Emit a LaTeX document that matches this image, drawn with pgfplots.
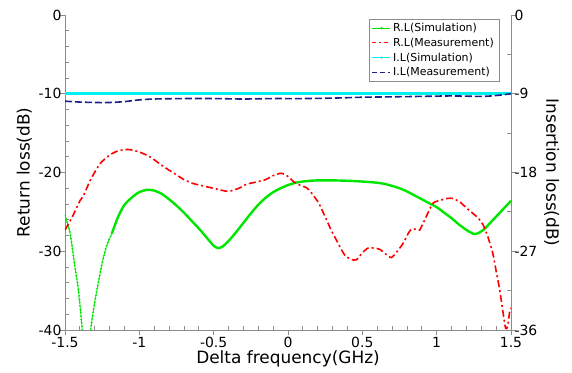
\documentclass[border=0pt]{standalone}
\usepackage{fontspec}
\setmainfont{DejaVu Sans}
\usepackage{pgfplots}
\pgfplotsset{compat=1.18}
\definecolor{axgray}{RGB}{140,140,140}
\definecolor{simgreen}{RGB}{0,230,0}
\definecolor{ilnavy}{RGB}{30,30,140}
\definecolor{ilcyan}{RGB}{0,240,240}
\pgfplotsset{
  common/.style={
    scale only axis, width=446bp, height=315bp,
    xmin=-1.5, xmax=1.5,
    axis line style={-, axgray, line width=0.8bp},
    tick style={axgray, line width=0.8bp},
    major tick length=5bp, minor tick length=4bp,
    tick align=inside,
    tick label style={font=\fontsize{14}{16}\selectfont, text=black},
    label style={font=\fontsize{17}{20}\selectfont},
    /pgf/number format/assume math mode=true,
  }
}
\begin{document}
\begin{tikzpicture}
\begin{axis}[common,
  axis x line*=bottom, axis y line*=left,
  ymin=-40, ymax=0,
  xtick={-1.5,-1,-0.5,0,0.5,1,1.5}, minor x tick num=4,
  xticklabels={-1.5,-1,-0.5,0,0.5,1,1.5},
  ytick={-40,-30,-20,-10,0}, minor y tick num=4,
  major x tick style={yshift=-5bp},
  major y tick style={xshift=-5bp},
  xticklabel style={yshift=-4bp},
  xlabel style={yshift=4bp},
  xlabel={Delta frequency(GHz)}, ylabel={Return loss(dB)},
]
\coordinate (sw) at (rel axis cs:0,0);
% steep null section: thin beaded line
\addplot[simgreen, line width=0.7bp, smooth, tension=0.4] coordinates {
(-1.5,-25.4) (-1.466,-27.7) (-1.433,-32) (-1.41,-34.9) (-1.384,-40) (-1.37,-45)
(-1.355,-52) (-1.34,-45) (-1.327,-40) (-1.3,-36.5) (-1.276,-34) (-1.25,-31.5)
(-1.22,-29.3) (-1.186,-27.8)
};
\addplot[simgreen, line width=1.8bp, dash pattern=on 1.2bp off 2.2bp, smooth, tension=0.4] coordinates {
(-1.5,-25.4) (-1.466,-27.7) (-1.433,-32) (-1.41,-34.9) (-1.384,-40) (-1.37,-45)
(-1.355,-52) (-1.34,-45) (-1.327,-40) (-1.3,-36.5) (-1.276,-34) (-1.25,-31.5)
(-1.22,-29.3) (-1.186,-27.8)
};
\addplot[simgreen, line width=2.4bp, smooth, tension=0.4] coordinates {
(-1.186,-27.8) (-1.142,-25.6) (-1.1,-24.1)
(-1.04,-23.0) (-1.0,-22.5) (-0.95,-22.2) (-0.9,-22.3) (-0.85,-22.7) (-0.8,-23.4)
(-0.75,-24.2) (-0.7,-25.1) (-0.65,-26.1) (-0.6,-27.1) (-0.55,-28.2) (-0.5,-29.3)
(-0.47,-29.6) (-0.44,-29.4) (-0.4,-28.7) (-0.35,-27.6) (-0.3,-26.4) (-0.25,-25.2)
(-0.2,-24.1) (-0.15,-23.2) (-0.1,-22.5) (-0.05,-22.0) (0,-21.6) (0.05,-21.3)
(0.1,-21.15) (0.15,-21.05) (0.2,-21.0) (0.3,-21.0) (0.4,-21.05) (0.5,-21.15)
(0.6,-21.3) (0.65,-21.45) (0.7,-21.7) (0.75,-22.0) (0.8,-22.4) (0.85,-22.9)
(0.9,-23.4) (0.95,-23.9) (1.0,-24.4) (1.05,-25.1) (1.1,-25.8) (1.15,-26.6)
(1.2,-27.3) (1.25,-27.8) (1.28,-27.7) (1.32,-27.2) (1.36,-26.4) (1.4,-25.6)
(1.45,-24.6) (1.5,-23.6)
};
\addplot[red, line width=1.6bp, dash pattern=on 7bp off 3bp on 2bp off 3bp, smooth, tension=0.4] coordinates {
(-1.5,-27.3) (-1.45,-25.6) (-1.4,-23.6) (-1.377,-23.0) (-1.33,-21.0) (-1.265,-18.9)
(-1.2,-17.8) (-1.15,-17.3) (-1.1,-17.1) (-1.063,-17.1) (-1.0,-17.4) (-0.929,-18.0)
(-0.87,-18.8) (-0.817,-19.5) (-0.75,-20.3) (-0.7,-20.9) (-0.638,-21.4) (-0.55,-21.8)
(-0.48,-22.1) (-0.402,-22.4) (-0.33,-22.0) (-0.28,-21.5) (-0.212,-21.2) (-0.15,-20.9)
(-0.1,-20.4) (-0.044,-20.1) (0.0,-20.5) (0.04,-21.2) (0.08,-21.6) (0.13,-22.0)
(0.17,-22.9) (0.21,-24.0) (0.259,-26.0) (0.29,-27.3) (0.326,-28.6) (0.36,-29.8)
(0.382,-30.5) (0.42,-31.0) (0.46,-31.1) (0.5,-30.2) (0.538,-29.6) (0.58,-29.6)
(0.617,-29.75) (0.66,-30.4) (0.696,-30.8) (0.735,-30.0) (0.774,-29.0) (0.81,-27.7)
(0.83,-27.2) (0.86,-27.2) (0.886,-27.3) (0.93,-25.6) (0.975,-23.9) (1.03,-23.5)
(1.07,-23.3) (1.11,-23.3) (1.16,-23.8) (1.2,-24.5) (1.244,-25.2) (1.28,-25.8)
(1.311,-26.6) (1.345,-28.2) (1.378,-30.3) (1.40,-32.5) (1.424,-34.9) (1.445,-37.6)
(1.464,-39.8) (1.478,-39.5) (1.49,-37.8) (1.5,-37.2)
};
\end{axis}
\begin{axis}[common,
  axis x line=none, axis y line*=right,
  ymin=-36, ymax=0,
  ytick={-36,-27,-18,-9,0}, minor y tick num=1,
  major y tick style={xshift=5bp},
  ylabel={Insertion loss(dB)},
  ylabel style={rotate=180},
  legend style={at={(1,1)}, anchor=north east, xshift=-12bp, yshift=-4bp,
    draw=axgray, font=\fontsize{11}{12}\selectfont, row sep=1bp,
    inner xsep=3bp, inner ysep=2bp},
  legend cell align=left,
  legend image code/.code={\draw[mark repeat=2,mark phase=2,#1] plot coordinates {(0bp,0bp)(9bp,0bp)(18bp,0bp)};},
]
\addlegendimage{simgreen, line width=0.8bp, mark=*, mark size=0.7bp}
\addlegendimage{red, line width=1.2bp, dash pattern=on 4bp off 3bp on 1.5bp off 3bp}
\addlegendimage{ilcyan, line width=0.8bp, mark=*, mark size=0.7bp}
\addlegendimage{ilnavy, line width=1.5bp, dash pattern=on 5bp off 3bp}
\addplot[ilcyan, line width=3.5bp, forget plot] coordinates {(-1.5,-9) (1.5,-9)};
\addplot[ilnavy, line width=1.6bp, dash pattern=on 7bp off 3bp, smooth, forget plot] coordinates {
(-1.5,-9.85) (-1.4,-9.95) (-1.3,-10.0) (-1.2,-10.0) (-1.1,-9.9) (-1.0,-9.7)
(-0.9,-9.6) (-0.7,-9.55) (-0.5,-9.55) (-0.3,-9.6) (-0.1,-9.55) (0.1,-9.55)
(0.3,-9.5) (0.5,-9.4) (0.7,-9.35) (0.9,-9.3) (1.1,-9.25) (1.3,-9.3) (1.4,-9.2) (1.5,-9.0)
};
\legend{R.L(Simulation),R.L(Measurement),I.L(Simulation),I.L(Measurement)}
\end{axis}
\pgfresetboundingbox
\path (sw) ++(-65bp,-43bp) rectangle ++(572bp,373bp);
\end{tikzpicture}
\end{document}
